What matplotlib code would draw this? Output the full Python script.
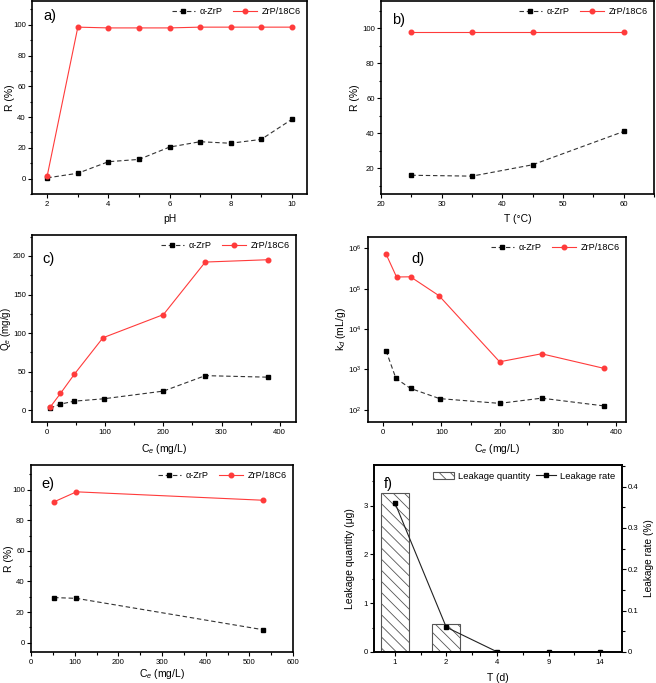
import numpy as np
import matplotlib
matplotlib.use("Agg")
import matplotlib.pyplot as plt
from matplotlib.ticker import MultipleLocator, LogLocator, NullLocator, FixedLocator

plt.rcParams['font.family'] = ['Liberation Sans', 'DejaVu Sans']
plt.rcParams['mathtext.fontset'] = 'custom'
plt.rcParams['mathtext.rm'] = 'Liberation Sans'
plt.rcParams['mathtext.it'] = 'Liberation Sans:italic'
plt.rcParams['mathtext.bf'] = 'Liberation Sans:bold'
plt.rcParams['hatch.linewidth'] = 0.6

# a) pH
ph = [2, 3, 4, 5, 6, 7, 8, 9, 10]
ph_zrp = [0.5, 3.5, 11, 12.5, 20.5, 24, 23, 25.5, 38.5]
ph_18c6 = [2, 98.5, 98, 98, 98, 98.5, 98.5, 98.5, 98.5]

# b) temperature
temp = [25, 35, 45, 60]
temp_zrp = [16, 15.5, 22, 41]
temp_18c6 = [98, 98, 98, 98]

# c) / d) isotherm
ce_zrp = [5, 22, 47, 97, 200, 272, 380]
qe_zrp = [3, 8, 12, 15, 25, 45, 43]
ce_18c6 = [5, 23, 47, 96, 200, 272, 380]
qe_18c6 = [4, 22, 47, 94, 124, 192, 195]
kd_zrp = [2900, 600, 340, 190, 145, 195, 125]
kd_18c6 = [720000, 195000, 197000, 67000, 1550, 2450, 1060]

# e) selectivity
ce_e = [53, 104, 532]
re_zrp = [29.5, 29, 8.5]
re_18c6 = [92, 98.5, 93]

# f) leakage
days = ['1', '2', '4', '9', '14']
leak_qty = [3.25, 0.57, 0, 0, 0]
leak_rate = [0.36, 0.06, 0, 0, 0]

RED = '#ff3b3b'
W, H = 656, 683
fig = plt.figure(figsize=(W / 100, H / 100), dpi=100)


def box(l, t, r, b):
    return [l / W, (H - b) / H, (r - l) / W, (b - t) / H]


def style(ax):
    for s in ax.spines.values():
        s.set_linewidth(1.2)
    ax.tick_params(which='both', direction='out', labelsize=5.6, width=0.8,
                   top=False, right=False, pad=2)
    ax.tick_params(axis='y', which='both', pad=1.5)
    ax.tick_params(which='major', length=3)
    ax.tick_params(which='minor', length=1.8)


def axis_labels(ax, xl, yl, xpad=4.5, ypad=-1.5, yfs=7.5):
    ax.set_xlabel(xl, fontsize=7.5, labelpad=xpad)
    ax.set_ylabel(yl, fontsize=yfs, labelpad=ypad)


def two_series(ax, x1, y1, x2, y2):
    ax.plot(x1, y1, ls='--', color='#333333', lw=0.8, marker='s', ms=3,
            mfc='black', mec='black', label='α-ZrP', dashes=(4, 2.5))
    ax.plot(x2, y2, ls='-', color=RED, lw=0.8, marker='o', ms=3.3,
            mfc=RED, mec=RED, label='ZrP/18C6')
    ax.legend(loc='upper right', ncol=2, frameon=False, fontsize=6.6,
              handlelength=2.6, columnspacing=1.1, handletextpad=0.5,
              borderaxespad=0.3)


def label(ax, s, x, y):
    ax.text(x, y, s, transform=ax.transAxes, fontsize=10.5, va='center', ha='left')


# a
ax = fig.add_axes(box(32, 1, 307, 194))
two_series(ax, ph, ph_zrp, ph, ph_18c6)
ax.set_xlim(1.5, 10.5)
ax.set_ylim(-10, 115.5)
ax.xaxis.set_major_locator(MultipleLocator(2))
ax.xaxis.set_minor_locator(MultipleLocator(1))
ax.yaxis.set_major_locator(MultipleLocator(20))
ax.yaxis.set_minor_locator(MultipleLocator(10))
axis_labels(ax, 'pH', 'R (%)')
style(ax)
label(ax, 'a)', 0.04, 0.92)

# b
ax = fig.add_axes(box(381, 1, 654, 194))
two_series(ax, temp, temp_zrp, temp, temp_18c6)
ax.set_xlim(20, 65)
ax.set_ylim(5.3, 115.5)
ax.xaxis.set_major_locator(MultipleLocator(10))
ax.xaxis.set_minor_locator(MultipleLocator(5))
ax.yaxis.set_major_locator(FixedLocator([20, 40, 60, 80, 100]))
ax.yaxis.set_minor_locator(FixedLocator([10, 30, 50, 70, 90, 110]))
axis_labels(ax, 'T (°C)', 'R (%)', ypad=1)
style(ax)
label(ax, 'b)', 0.04, 0.9)

# c
ax = fig.add_axes(box(32, 235, 296, 422))
two_series(ax, ce_zrp, qe_zrp, ce_18c6, qe_18c6)
ax.set_xlim(-26, 428)
ax.set_ylim(-15, 227)
ax.xaxis.set_major_locator(MultipleLocator(100))
ax.xaxis.set_minor_locator(MultipleLocator(50))
ax.yaxis.set_major_locator(MultipleLocator(50))
ax.yaxis.set_minor_locator(MultipleLocator(25))
axis_labels(ax, 'C$_e$ (mg/L)', 'Q$_e$ (mg/g)', ypad=0.2, yfs=7)
style(ax)
label(ax, 'c)', 0.04, 0.87)

# d
ax = fig.add_axes(box(368, 237, 626, 422))
two_series(ax, ce_zrp, kd_zrp, ce_18c6, kd_18c6)
ax.set_yscale('log')
ax.set_xlim(-26, 417)
ax.set_ylim(10 ** 1.7, 10 ** 6.28)
ax.xaxis.set_major_locator(MultipleLocator(100))
ax.xaxis.set_minor_locator(MultipleLocator(50))
ax.yaxis.set_major_locator(LogLocator(base=10, numticks=10))
ax.yaxis.set_minor_locator(NullLocator())
axis_labels(ax, 'C$_e$ (mg/L)', 'k$_d$ (mL/g)', ypad=0)
style(ax)
label(ax, 'd)', 0.17, 0.88)

# e
ax = fig.add_axes(box(31, 465, 293, 652))
two_series(ax, ce_e, re_zrp, ce_e, re_18c6)
ax.set_xlim(0, 600)
ax.set_ylim(-6, 116)
ax.xaxis.set_major_locator(MultipleLocator(100))
ax.xaxis.set_minor_locator(MultipleLocator(50))
ax.yaxis.set_major_locator(MultipleLocator(20))
ax.yaxis.set_minor_locator(MultipleLocator(10))
axis_labels(ax, 'C$_e$ (mg/L)', 'R (%)', xpad=0.5)
style(ax)
label(ax, 'e)', 0.04, 0.9)

# f
ax = fig.add_axes(box(374, 465, 622, 652))
pos = np.arange(1, len(days) + 1)
bars = ax.bar(pos, leak_qty, width=0.54, color='white', edgecolor='#555555',
              hatch='\\\\\\', lw=0.8, label='Leakage quantity')
ax.set_xlim(0.59, 5.43)
ax.set_ylim(0, 3.83)
ax.set_xticks(pos)
ax.set_xticklabels(days)
ax.xaxis.set_minor_locator(FixedLocator(pos[:-1] + 0.5))
ax.yaxis.set_major_locator(MultipleLocator(1))
ax.yaxis.set_minor_locator(MultipleLocator(0.5))
axis_labels(ax, 'T (d)', 'Leakage quantity (μg)', xpad=5, ypad=6)
style(ax)
ax2 = ax.twinx()
line, = ax2.plot(pos, leak_rate, color='#222222', lw=0.8, marker='s', ms=3,
                 mfc='black', mec='black', label='Leakage rate')
ax2.set_ylim(0, 0.452)
ax2.yaxis.set_major_locator(MultipleLocator(0.1))
ax2.yaxis.set_minor_locator(MultipleLocator(0.05))
ax2.yaxis.set_major_formatter(plt.FuncFormatter(lambda v, p: '0' if v == 0 else f'{v:.1f}'))
ax2.set_ylabel('Leakage rate (%)', fontsize=7.3, labelpad=3.5)
style(ax2)
ax2.tick_params(which='both', right=True, left=False)
ax2.legend([bars, line], ['Leakage quantity', 'Leakage rate'], loc='upper right',
           ncol=2, frameon=False, fontsize=6.8, handlelength=2.2,
           columnspacing=0.6, handletextpad=0.4, borderaxespad=0.3)
label(ax, 'f)', 0.04, 0.9)

fig.savefig('out.png', dpi=100)
